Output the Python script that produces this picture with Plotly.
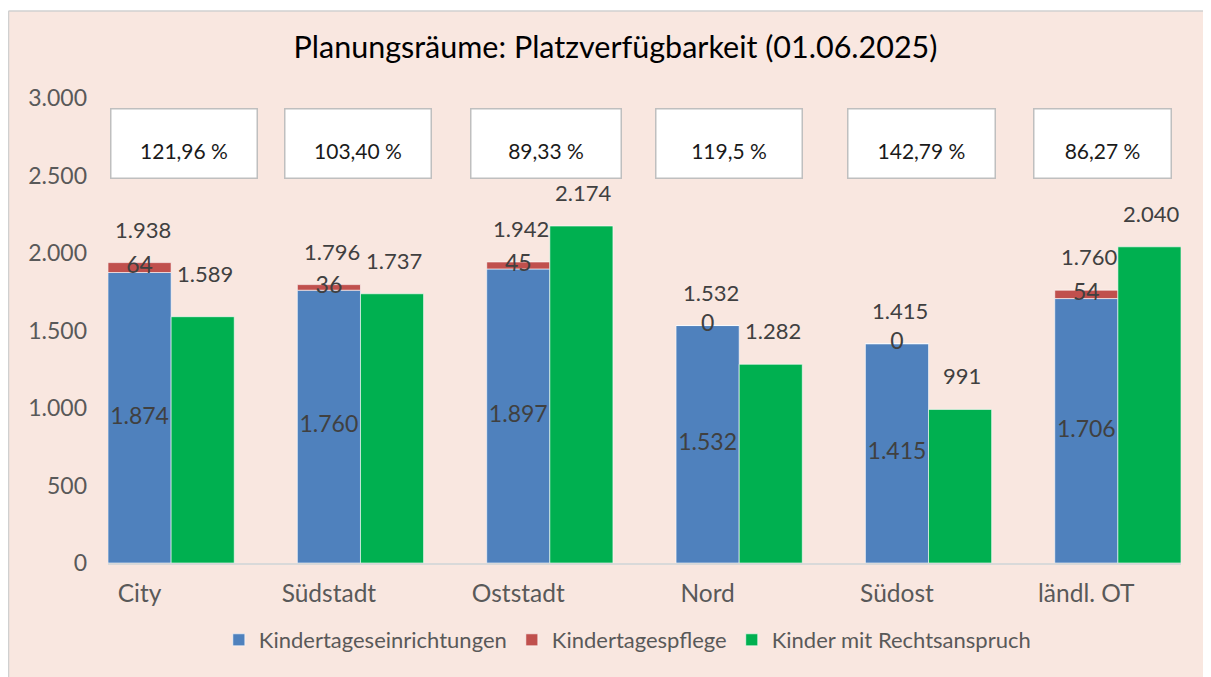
import plotly.graph_objects as go

# Planungsräume und Werte (Stand 01.06.2025)
REGIONS = ["City", "Südstadt", "Oststadt", "Nord", "Südost", "ländl. OT"]
KITA = [1874, 1760, 1897, 1532, 1415, 1706]          # Kindertageseinrichtungen
PFLEGE = [64, 36, 45, 0, 0, 54]                       # Kindertagespflege
ANSPRUCH = [1589, 1737, 2174, 1282, 991, 2040]        # Kinder mit Rechtsanspruch
QUOTE = ["121,96 %", "103,40 %", "89,33 %", "119,5 %", "142,79 %", "86,27 %"]

TOTAL = [k + p for k, p in zip(KITA, PFLEGE)]

BLUE = "#4F81BD"
RED = "#C0504D"
GREEN = "#00B050"
PEACH = "#F9E7E0"
LABEL = "#404040"
AXIS = "#595959"
FONT = "Lato"

# Lage und Breite der Prozent-Kästen relativ zur Kategorie (px)
BOX_SHIFT = [44, 29, 28, 21, 25, 16]
BOX_W = [148, 148, 152, 148, 149, 139]
BOX_PAD = 15

# Seite hat 8px Rand -> Figur 1195x669, Plotbereich 100..1173 / 90..555
FIG_W, FIG_H = 1195, 669
PL, PR, PT, PB = 100, 1173, 90, 555


def fmt(v):
    return f"{v:,}".replace(",", ".")


W = 1/3
edge = dict(color="rgba(255,255,255,0.6)", width=1)
fig = go.Figure()
fig.add_trace(go.Bar(
    x=REGIONS, y=KITA, name="Kindertageseinrichtungen", marker_color=BLUE,
    width=W, offset=-W/2, marker_line=edge,
))
fig.add_trace(go.Bar(
    x=REGIONS, y=PFLEGE, base=KITA, name="Kindertagespflege", marker_color=RED,
    width=W, offset=-W/2, marker_line=edge,
))
fig.add_trace(go.Bar(
    x=REGIONS, y=ANSPRUCH, name="Kinder mit Rechtsanspruch", marker_color=GREEN,
    width=W, offset=W/2, marker_line=edge,
))

# Beschriftung innerhalb der Säulen
fig.add_trace(go.Scatter(
    x=REGIONS, y=[k / 2 for k in KITA], mode="text", text=[fmt(k) for k in KITA],
    textfont=dict(size=23, color=LABEL, family=FONT), showlegend=False, hoverinfo="skip",
))
fig.add_trace(go.Scatter(
    x=REGIONS, y=[k + p / 2 for k, p in zip(KITA, PFLEGE)], mode="text",
    text=[str(p) for p in PFLEGE],
    textfont=dict(size=23, color=LABEL, family=FONT), showlegend=False, hoverinfo="skip",
))

annotations = []
for i, reg in enumerate(REGIONS):
    # Summe über dem gestapelten Balken
    annotations.append(dict(
        x=reg, y=TOTAL[i], xref="x", yref="y", text=fmt(TOTAL[i]), showarrow=False,
        yanchor="bottom", yshift=18, xshift=3, font=dict(size=22, color=LABEL, family=FONT),
    ))
    # Rechtsanspruch
    annotations.append(dict(
        x=reg, y=ANSPRUCH[i], xref="x", yref="y", text=fmt(ANSPRUCH[i]), showarrow=False,
        yanchor="bottom", yshift=28 if i == 0 else 18, xshift=65,
        font=dict(size=22, color=LABEL, family=FONT),
    ))
    # Versorgungsquote im Kasten
    annotations.append(dict(
        x=reg, y=0.902, xref="x", yref="paper", yanchor="middle", text=QUOTE[i],
        showarrow=False, xshift=BOX_SHIFT[i], width=BOX_W[i] - 2 * BOX_PAD - 3,
        height=71 - 2 * BOX_PAD - 3, valign="bottom", borderpad=BOX_PAD,
        bgcolor="white", bordercolor="#BFBFBF", borderwidth=1.5,
        font=dict(size=21, color="#1a1a1a", family=FONT),
    ))

# Pfirsichfarbener Hintergrund mit Rahmenlinie links und oben
pw, ph = PR - PL, PB - PT
x_left, y_top = (0.5 - PL) / pw, (PB - 3) / ph
x_right, y_bot = (FIG_W + 10 - PL) / pw, (PB - FIG_H - 10) / ph
border = dict(color="#D0D0D0", width=1.5)
shapes = [
    dict(type="rect", xref="paper", yref="paper", layer="below",
         x0=x_left, x1=x_right, y0=y_bot, y1=y_top, fillcolor=PEACH, line_width=0),
    dict(type="line", xref="paper", yref="paper", layer="below",
         x0=x_left, x1=x_left, y0=y_bot, y1=y_top, line=border),
    dict(type="line", xref="paper", yref="paper", layer="below",
         x0=x_left, x1=x_right, y0=y_top, y1=y_top, line=border),
]

fig.update_layout(
    width=FIG_W, height=FIG_H,
    paper_bgcolor="white", plot_bgcolor="white",
    margin=dict(l=PL, r=FIG_W - PR, t=PT, b=FIG_H - PB),
    barmode="overlay",
    separators=",.",
    font=dict(family=FONT, color=AXIS, size=20),
    title=dict(
        text="Planungsräume: Platzverfügbarkeit (01.06.2025)",
        x=607.5 / FIG_W, xanchor="center", y=1 - 39 / FIG_H, yanchor="middle",
        font=dict(size=30.5, color="black", family=FONT),
    ),
    xaxis=dict(
        range=[-1/6, 5.5], showgrid=False, showline=True, linecolor="#D9D9D9", linewidth=1.5,
        ticks="", tickfont=dict(size=24.5, color=AXIS), ticklabelstandoff=8,
    ),
    yaxis=dict(
        range=[0, 3000], dtick=500, tickformat=",d", showgrid=False, zeroline=False,
        ticks="", tickfont=dict(size=23, color=AXIS), ticklabelstandoff=20,
    ),
    legend=dict(
        orientation="h", x=0.484, xanchor="center", y=(PB - 632) / ph, yanchor="middle",
        font=dict(size=22, color=AXIS), bgcolor="rgba(0,0,0,0)", traceorder="normal",
    ),
    shapes=shapes,
    annotations=annotations,
)

fig.write_html("out.html")
